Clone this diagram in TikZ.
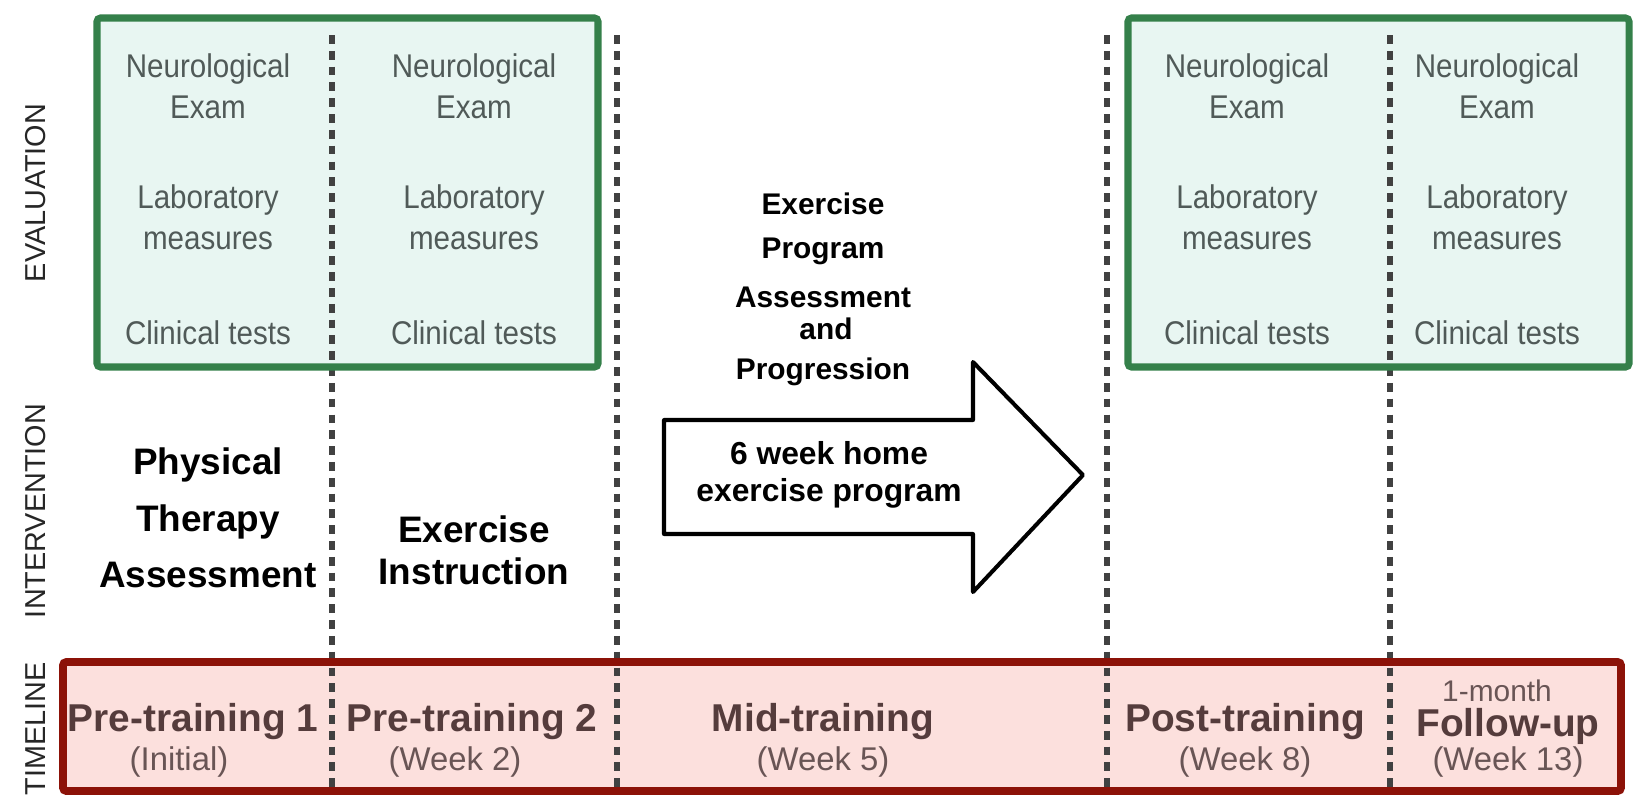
\documentclass[tikz,border=0pt]{standalone}
\usepackage{fontspec}
\setmainfont{Liberation Sans}
\newfontfamily\narrowsans[FakeStretch=0.9]{Liberation Sans}
\usetikzlibrary{arrows.meta}

\definecolor{evalgreen}{RGB}{52,128,74}
\definecolor{evalfill}{RGB}{232,246,242}
\definecolor{evalgray}{RGB}{80,90,88}
\definecolor{timered}{RGB}{140,18,8}
\definecolor{timefill}{RGB}{252,224,221}
\definecolor{timebrown}{RGB}{85,60,60}
\definecolor{timegray}{RGB}{105,85,85}
\definecolor{sepgray}{RGB}{65,65,65}

\begin{document}
\begin{tikzpicture}[x=0.02cm, y=-0.02cm,
  sep/.style={sepgray, line width=3pt, dash pattern=on 5pt off 4pt},
  evalitem/.style={evalgray, align=center, inner sep=0pt,
    font=\narrowsans\fontsize{18.7}{23.2}\selectfont},
  interv/.style={black, align=center, inner sep=0pt,
    font=\bfseries\fontsize{21}{32.3}\selectfont},
  midtext/.style={black, inner sep=0pt, font=\bfseries\fontsize{17}{20}\selectfont},
  phase/.style={timebrown, inner sep=0pt, font=\bfseries\fontsize{22.1}{26}\selectfont},
  week/.style={timegray, inner sep=0pt, font=\fontsize{18.7}{22}\selectfont},
  rowlabel/.style={black!85, rotate=90, inner sep=0pt, font=\fontsize{16.4}{19}\selectfont}]
\useasboundingbox (0,0) rectangle (1634,799);

% boxes (fill only, borders go on top of the separators)
\fill[evalfill] (97,18) rectangle (598,367);
\fill[evalfill] (1128,18) rectangle (1629,367);
\fill[timefill] (63,662) rectangle (1621,791);

% separators between the visits
\foreach \xs in {332,617,1107,1390}
  \draw[sep] (\xs,35)--(\xs,788);

\draw[evalgreen, line width=4pt, rounded corners=2pt] (97,18) rectangle (598,367);
\draw[evalgreen, line width=4pt, rounded corners=2pt] (1128,18) rectangle (1629,367);
\draw[timered, line width=4.5pt, rounded corners=2pt] (63,662) rectangle (1621,791);

% row labels
\path
(36,193) node[rowlabel] (lEval){EVALUATION};
\path
(36,511) node[rowlabel] (lInterv){INTERVENTION};
\path
(36,729) node[rowlabel] (lTime){TIMELINE};

% evaluation entries
\foreach \xc/\nm in {208/a,474/b,1247/c,1497/d} {
  \path
  (\xc,86) node[evalitem] (neuro\nm){Neurological\\Exam};
  \path
  (\xc,217) node[evalitem] (lab\nm){Laboratory\\measures};
  \path
  (\xc,333) node[evalitem] (clin\nm){Clinical tests};
}

% intervention entries
\path
(208,518) node[interv] (ptAssess){Physical\\Therapy\\Assessment};
\path
(474,550) node[interv, font=\bfseries\fontsize{21}{23.8}\selectfont] (exInstr){Exercise\\Instruction};

\path
(823,204) node[midtext] (mid1){Exercise};
\path
(823,251) node[midtext] (mid2){Program};
\path
(823,297) node[midtext] (mid3){Assessment};
\path
(826,329) node[midtext] (mid4){and};
\path
(823,372) node[midtext] (mid5){Progression};

% home program arrow
\draw[black, line width=2.3pt, line join=round, fill=white]
  (664,420)--(973,420)--(973,362)--(1083,475)--(973,592)--(973,534)--(664,534)--cycle;
\path
(829,475) node[black, align=center, inner sep=0pt,
  font=\bfseries\fontsize{18.1}{21}\selectfont] (homeEx){6 week home\\exercise program};

% timeline
\path
(193,722) node[phase] (pre1){Pre-training 1};
\path
(179,762) node[week] (pre1w){(Initial)};
\path
(472,722) node[phase] (pre2){Pre-training 2};
\path
(455,762) node[week] (pre2w){(Week 2)};
\path
(823,722) node[phase] (midT){Mid-training};
\path
(823,762) node[week] (midTw){(Week 5)};
\path
(1245,722) node[phase] (post){Post-training};
\path
(1245,762) node[week] (postw){(Week 8)};
\path
(1497,691) node[week, font=\fontsize{17}{20}\selectfont] (month){1-month};
\path
(1508,726) node[phase] (follow){Follow-up};
\path
(1508,762) node[week] (followw){(Week 13)};
\end{tikzpicture}
\end{document}
